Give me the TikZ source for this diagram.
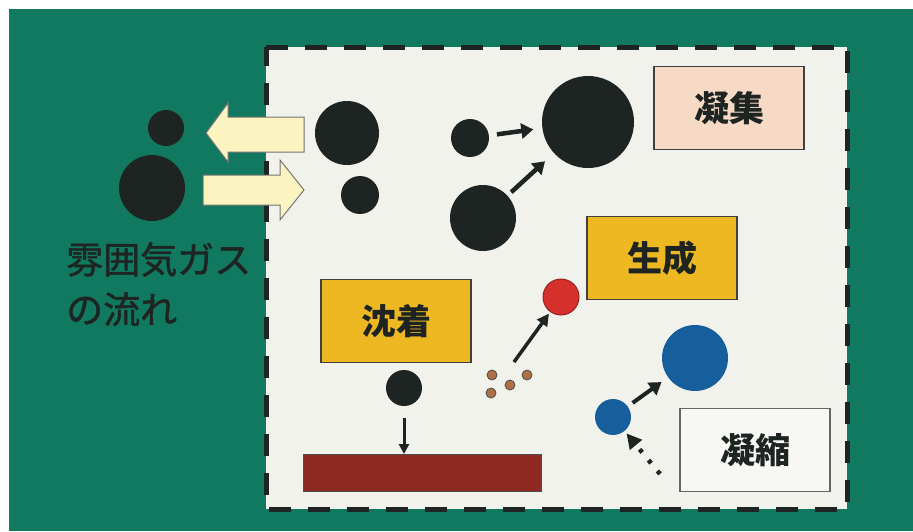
\documentclass[tikz,border=0pt]{standalone}
\usepackage{fontspec}
\newfontfamily\jp{Noto Sans CJK JP}
\newfontfamily\jpmed[FakeBold=1.2]{Noto Sans CJK JP}
\usetikzlibrary{arrows.meta}
\definecolor{bggreen}{RGB}{17,121,96}
\definecolor{panel}{RGB}{242,242,236}
\definecolor{ink}{RGB}{30,36,33}
\definecolor{peach}{RGB}{246,218,198}
\definecolor{gold}{RGB}{238,184,34}
\definecolor{paleyellow}{RGB}{251,243,192}
\definecolor{redc}{RGB}{214,48,44}
\definecolor{bluec}{RGB}{22,94,156}
\definecolor{browndot}{RGB}{176,112,70}
\definecolor{bar}{RGB}{142,42,34}
\tikzset{
  dot/.style={circle,fill=ink,inner sep=0pt,minimum size=#1},
  lbl/.style={draw=black!75,line width=1.5pt,minimum width=150pt,minimum height=83pt,font=\jp\bfseries\fontsize{35}{35}\selectfont,text=ink},
  bigarrow/.style={line width=4.5pt,draw=ink,-{Triangle[width=15pt,length=12pt]}},
  flowarrow/.style={fill=paleyellow,draw=black!55,line width=1pt,line join=miter}
}
\begin{document}
\begin{tikzpicture}[x=1pt,y=-1pt]
\useasboundingbox (0,0) rectangle (913,531);
\fill[white] (0,0) rectangle (913,531);
\fill[bggreen] (9,9) rectangle (913,531);
% panel
\fill[panel] (266,47) rectangle (847,509);
\draw[ink,line width=5pt,dash pattern=on 22pt off 17pt] (266,47) -- (847,47) -- (847,509) -- (266,509) -- cycle;
% left circles
\node[dot=36pt] (l1) at (166,128) {};
\node[dot=66pt] (l2) at (152,188) {};
% flow arrows
\draw[flowarrow] (304,117) -- (228,117) -- (228,103) -- (206,133) -- (228,162) -- (228,152) -- (304,152) -- cycle;
\draw[flowarrow] (203,175) -- (280,175) -- (280,160) -- (304,190) -- (280,220) -- (280,205) -- (203,205) -- cycle;
% black circles
\node[dot=64pt] (a) at (347,133) {};
\node[dot=38pt] (b) at (360,195) {};
\node[dot=38pt] (c) at (470,138) {};
\node[dot=66pt] (d) at (483,218) {};
\node[dot=92pt] (e) at (588,122) {};
\draw[bigarrow,shorten <=8pt,shorten >=9pt] (c) -- (e);
\draw[bigarrow,shorten <=5pt,shorten >=12pt] (d) -- (e);
% labels
\node[lbl,fill=peach] (gyoshu) at (729,108) {凝集};
\node[lbl,fill=gold] (seisei) at (662,258) {生成};
\node[lbl,fill=gold] (chakuchaku) at (396,321) {沈着};
\node[lbl,fill=panel!60!white,draw=black!60] (gyoshuku) at (755,450) {凝縮};
% red generation
\node[circle,fill=redc,draw=redc!70!black,line width=1pt,inner sep=0pt,minimum size=36pt] (red) at (561,297) {};
\foreach \n/\x/\y in {p1/492/375,p2/510/385,p3/527/375,p4/491/393}
  \node[circle,fill=browndot,draw=black!70,line width=0.8pt,inner sep=0pt,minimum size=10pt] (\n) at (\x,\y) {};
\coordinate (pc) at (514,362);
\draw[line width=3.5pt,draw=ink,-{Triangle[width=12pt,length=12pt]},shorten >=2pt] (pc) -- (red);
% deposition
\node[dot=36pt] (dep) at (404,388) {};
\node[fill=bar,draw=black!70,line width=1pt,minimum width=238pt,minimum height=37pt,inner sep=0pt] (film) at (422,473) {};
\draw[line width=3pt,draw=ink,-{Triangle[width=10pt,length=10pt]},shorten <=12pt] (dep) -- (film.north -| dep);
% condensation
\node[circle,fill=bluec,inner sep=0pt,minimum size=66pt] (bbig) at (695,358) {};
\node[circle,fill=bluec,inner sep=0pt,minimum size=36pt] (bsmall) at (613,417) {};
\draw[bigarrow,line width=4pt,shorten <=6pt,shorten >=8pt] (bsmall) -- (bbig);
\coordinate (vap) at (660,474);
\draw[draw=ink,line width=4.5pt,dash pattern=on 4pt off 10pt,-{Triangle[width=15pt,length=15pt]},shorten >=3pt] (vap) -- (bsmall);
% gas flow text
\node[anchor=north west,align=left,inner sep=0pt,text=ink,font=\jpmed\fontsize{37}{50}\selectfont] (gas) at (66,242) {雰囲気ガス\\の流れ};
\end{tikzpicture}
\end{document}
